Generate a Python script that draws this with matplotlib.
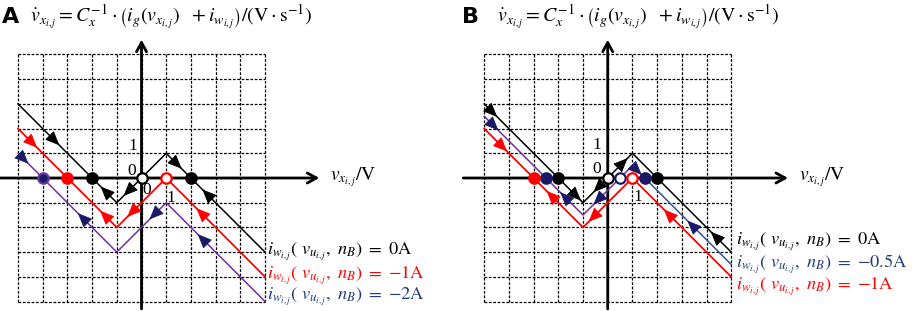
import numpy as np
import matplotlib
matplotlib.use("Agg")
import matplotlib.pyplot as plt

plt.rcParams['mathtext.fontset'] = 'stix'

# piecewise-linear characteristic, vertices in V
vx = [-5, -1, 1, 5]
black_y = [3, -1, 1, -3]
red_y = [2, -2, 0, -4]
purple_y = [1, -3, -1, -5]
half_y = [2.5, -1.5, 0.5, -3.5]

# arrows: (x, y, direction along v)
arrows_a_black = [(-3.5, 1.5, 1), (-1.48, -0.52, -1), (-0.55, -0.55, -1), (1.45, 0.55, 1), (2.64, -0.64, -1)]
arrows_a_red = [(-4.4, 1.4, 1), (-1.5, -1.5, -1), (-0.4, -1.4, -1), (2.4, -1.4, -1)]
arrows_a_purple = [(-4.75, 0.75, 1), (-2.4, -1.6, -1), (0.5, -1.5, -1), (2.45, -2.45, -1)]
arrows_b_black = [(-4.65, 2.65, 1), (-1.26, -0.74, 1), (-0.4, -0.4, -1), (0.63, 0.63, 1), (4.35, -2.35, -1)]
arrows_b_half = [(-4.6, 2.1, 1), (-1.75, -0.75, -1), (-0.4, -0.9, -1), (1.2, 0.3, 1), (3.4, -1.9, -1)]
arrows_b_red = [(-4.25, 1.25, 1), (-2.3, -0.7, -1), (-0.6, -1.6, -1), (2.45, -1.45, -1)]

# equilibria: (x, filled)
pts_a_black = [(-2, True), (0, False), (2, True)]
pts_a_red = [(-3, True), (1, False)]
pts_a_purple = [(-4, True)]
pts_b_black = [(-2, True), (0, False), (2, True)]
pts_b_half = [(-2.5, True), (0.5, False), (1.5, True)]
pts_b_red = [(-3, True), (1, False)]

legend_a = ['0', '-1', '-2']
legend_b = ['0', '-0.5', '-1']

RED = '#FF0000'
PURPLE = '#7030A0'
NAVY = '#1A1A66'
BLUE = '#2F5597'
TXTBLUE = '#203C7C'

W, H = 913, 311
CELL = 24.7
OY = 178

fig = plt.figure(figsize=(W / 100, H / 100), dpi=100)


def make_ax(x0, x1, ox):
    ax = fig.add_axes([x0 / W, 0, (x1 - x0) / W, 1])
    ax.set_xlim((x0 - ox) / CELL, (x1 - ox) / CELL)
    ax.set_ylim((OY - H) / CELL, OY / CELL)
    ax.axis('off')
    return ax


def seg_slope(x):
    return 1.0 if -1 <= x <= 1 else -1.0


def draw_arrows(ax, arrows, color):
    for x, y, d in arrows:
        s = seg_slope(x)
        u = np.array([1.0, s]) * d / np.sqrt(2)
        tip = np.array([x, y]) + 0.25 * u
        tail = tip - 0.55 * u
        ax.annotate('', xy=tip, xytext=tail,
                    arrowprops=dict(arrowstyle='-|>,head_length=0.7,head_width=0.3',
                                    mutation_scale=13, color=color, lw=0.6,
                                    shrinkA=0, shrinkB=0), zorder=5)


def draw_pts(ax, pts, face, edge):
    for x, filled in pts:
        ax.plot(x, 0, 'o', ms=7.5, mfc=face if filled else 'white',
                mec=edge, mew=1.6, zorder=7)


def draw_frame(ax, xmin, xmax, ymin, ymax):
    for k in range(-5, 6):
        ax.plot([k, k], [-5, 5], color='black', lw=0.9, ls=(0, (2.2, 1.3)), zorder=1)
        ax.plot([-5, 5], [k, k], color='black', lw=0.9, ls=(0, (2.2, 1.3)), zorder=1)
    ax.annotate('', xy=(xmax, 0), xytext=(xmin, 0),
                arrowprops=dict(arrowstyle='->,head_length=0.55,head_width=0.3',
                                mutation_scale=12, color='black', lw=2,
                                shrinkA=0, shrinkB=0), zorder=3)
    ax.annotate('', xy=(0, ymax), xytext=(0, ymin),
                arrowprops=dict(arrowstyle='->,head_length=0.55,head_width=0.3',
                                mutation_scale=12, color='black', lw=2,
                                shrinkA=0, shrinkB=0), zorder=3)
    ax.text(xmax + 0.45, 0.02, r'$v_{x_{i,j}}/\mathrm{V}$', fontsize=14,
            va='center', ha='left')


title = (r'$\dot{v}_{x_{i,j}} = C_x^{-1}\cdot\left(i_g(v_{x_{i,j}})\ \ + i_{w_{i,j}}\right)'
         r'/(\mathrm{V}\cdot\mathrm{s}^{-1})$')


def legend_text(val):
    return r'$i_{w_{i,j}}(\ v_{u_{i,j}},\ n_B)\ =\ {' + val + r'}\mathrm{A}$'


num_kw = dict(fontsize=12.5, family='Liberation Serif', ha='center', va='center')
LEG = 13.2

# ---------- panel A ----------
ax = make_ax(0, 456, 141.5)
draw_frame(ax, -5.73, 7.2, -5.3, 5.6)
ax.plot(vx, black_y, color='black', lw=1.1, zorder=4)
ax.plot(vx, red_y, color=RED, lw=1.3, zorder=4)
ax.plot(vx, purple_y, color=PURPLE, lw=1.1, zorder=4)
draw_arrows(ax, arrows_a_black, 'black')
draw_arrows(ax, arrows_a_red, RED)
draw_arrows(ax, arrows_a_purple, NAVY)
draw_pts(ax, pts_a_black, 'black', 'black')
draw_pts(ax, pts_a_red, RED, RED)
draw_pts(ax, pts_a_purple, NAVY, PURPLE)
ax.text(-0.35, 1.3, '1', **num_kw)
ax.text(-0.4, 0.3, '0', **num_kw)
ax.text(0.22, -0.5, '0', **num_kw)
ax.text(1.2, -0.8, '1', **num_kw)
for val, yy, col in zip(legend_a, [-3.0, -3.95, -4.8], ['black', RED, TXTBLUE]):
    ax.text(5.1, yy, legend_text(val), fontsize=LEG, color=col, va='center')
fig.text(2 / W, 1 - 17 / H, 'A', fontsize=16, fontweight='bold', va='center', ha='left')
fig.text(30 / W, 1 - 17 / H, title, fontsize=14.3, va='center', ha='left')

# ---------- panel B ----------
ax = make_ax(457, 913, 607.7)
draw_frame(ax, -5.85, 7.3, -5.3, 5.6)
ax.plot(vx, black_y, color='black', lw=1.1, zorder=4)
ax.plot(vx[:3], half_y[:3], color=PURPLE, lw=1.1, zorder=4)
ax.plot(vx[2:], half_y[2:], color=BLUE, lw=1.1, zorder=4)
ax.plot(vx, red_y, color=RED, lw=1.3, zorder=4)
draw_arrows(ax, arrows_b_black, 'black')
draw_arrows(ax, arrows_b_half, NAVY)
draw_arrows(ax, arrows_b_red, RED)
draw_pts(ax, pts_b_black, 'black', 'black')
draw_pts(ax, pts_b_half, NAVY, NAVY)
draw_pts(ax, pts_b_red, RED, RED)
ax.text(-0.42, 1.34, '1', **num_kw)
ax.text(-0.45, 0.35, '0', **num_kw)
ax.text(1.24, -0.76, '1', **num_kw)
for val, yy, col in zip(legend_b, [-2.6, -3.5, -4.4], ['black', TXTBLUE, RED]):
    ax.text(5.2, yy, legend_text(val), fontsize=LEG, color=col, va='center')
fig.text(462 / W, 1 - 17 / H, 'B', fontsize=16, fontweight='bold', va='center', ha='left')
fig.text(497 / W, 1 - 17 / H, title, fontsize=14.3, va='center', ha='left')

fig.savefig('out.png', dpi=100)
